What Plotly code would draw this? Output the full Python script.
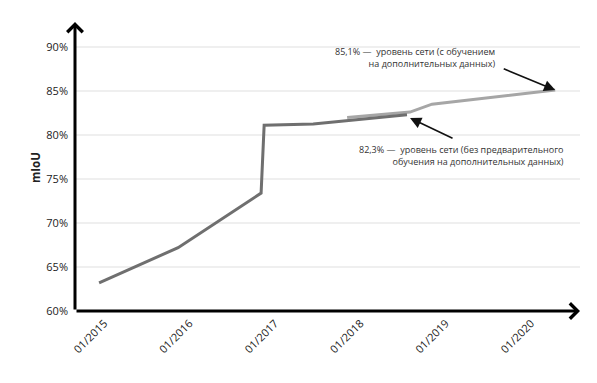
import plotly.graph_objects as go

# Data
base_dates = ["2014-12-10", "2015-11-13", "2016-11-02", "2016-11-15", "2017-06-13", "2018-07-19"]
base_values = [63.2, 67.2, 73.4, 81.1, 81.25, 82.3]

extra_dates = ["2017-11-05", "2018-08-01", "2018-11-03", "2020-04-13"]
extra_values = [82.0, 82.6, 83.5, 85.1]

tick_dates = ["2015-01-01", "2016-01-01", "2017-01-01", "2018-01-01", "2019-01-01", "2020-01-01"]
tick_labels = ["01/2015", "01/2016", "01/2017", "01/2018", "01/2019", "01/2020"]
y_ticks = [60, 65, 70, 75, 80, 85, 90]
y_labels = ["60%", "65%", "70%", "75%", "80%", "85%", "90%"]

note_extra = "85,1% —  уровень сети (с обучением<br>на дополнительных данных)"
note_base = "82,3% —  уровень сети (без предварительного<br>обучения на дополнительных данных)"

FONT = "Open Sans"

fig = go.Figure()
fig.add_trace(go.Scatter(x=extra_dates, y=extra_values, mode="lines",
                         line=dict(color="#a6a6a6", width=3), showlegend=False, hoverinfo="skip"))
fig.add_trace(go.Scatter(x=base_dates, y=base_values, mode="lines",
                         line=dict(color="#6f6f6f", width=3), showlegend=False, hoverinfo="skip"))

# page has an 8px body margin, so the figure is 8px smaller
fig.update_layout(
    width=589, height=375,
    margin=dict(l=67, r=17, t=14, b=72),
    paper_bgcolor="white", plot_bgcolor="white",
    font=dict(family=FONT, color="#222222"),
    showlegend=False,
    xaxis=dict(type="date", range=["2014-08-29", "2020-07-28"], automargin=False,
               tickvals=tick_dates, ticktext=tick_labels, tickangle=-45,
               tickfont=dict(size=11, family=FONT, color="#222"),
               ticklabelstandoff=3,
               showgrid=False, zeroline=False, showline=False, ticks=""),
    yaxis=dict(range=[60, 92.84], automargin=False, tickvals=y_ticks, ticktext=y_labels,
               tickfont=dict(size=11, family=FONT, color="#222"),
               ticklabelstandoff=6,
               showgrid=True, gridcolor="#efefef", gridwidth=1.5,
               zeroline=False, showline=False, ticks=""),
)

# axis arrows
fig.add_annotation(xref="paper", yref="paper", x=0, y=1.0, ax=0, ay=289,
                   axref="pixel", ayref="pixel", text="", showarrow=True,
                   arrowhead=4, arrowsize=1, arrowwidth=3, arrowcolor="black")
fig.add_annotation(xref="paper", yref="paper", x=1.0, y=0, ax=-505, ay=0,
                   text="", showarrow=True,
                   arrowhead=4, arrowsize=1, arrowwidth=3, arrowcolor="black")

# axis title
fig.add_annotation(xref="paper", yref="paper", x=-0.077, y=0.495, text="<b>mIoU</b>",
                   xanchor="center", yanchor="middle",
                   textangle=-90, showarrow=False, font=dict(size=11.5, family=FONT, color="#222"))

# pointers
fig.add_annotation(x=extra_dates[-1], y=extra_values[-1], ax=-53, ay=-22,
                   text="", showarrow=True, arrowhead=2, arrowsize=1.4, arrowwidth=1.6,
                   arrowcolor="#111", standoff=0)
fig.add_annotation(x="2018-08-01", y=81.93, ax=44, ay=21,
                   text="", showarrow=True, arrowhead=2, arrowsize=1.4, arrowwidth=1.6,
                   arrowcolor="#111", standoff=0)

fig.add_annotation(xref="paper", yref="paper", x=0.8356, y=0.877, xanchor="right", yanchor="middle",
                   text=note_extra, align="right", showarrow=False,
                   font=dict(size=9, family=FONT, color="#333"))
fig.add_annotation(xref="paper", yref="paper", x=0.972, y=0.538, xanchor="right", yanchor="middle",
                   text=note_base, align="right", showarrow=False,
                   font=dict(size=9, family=FONT, color="#333"))

fig.write_html("out.html")
